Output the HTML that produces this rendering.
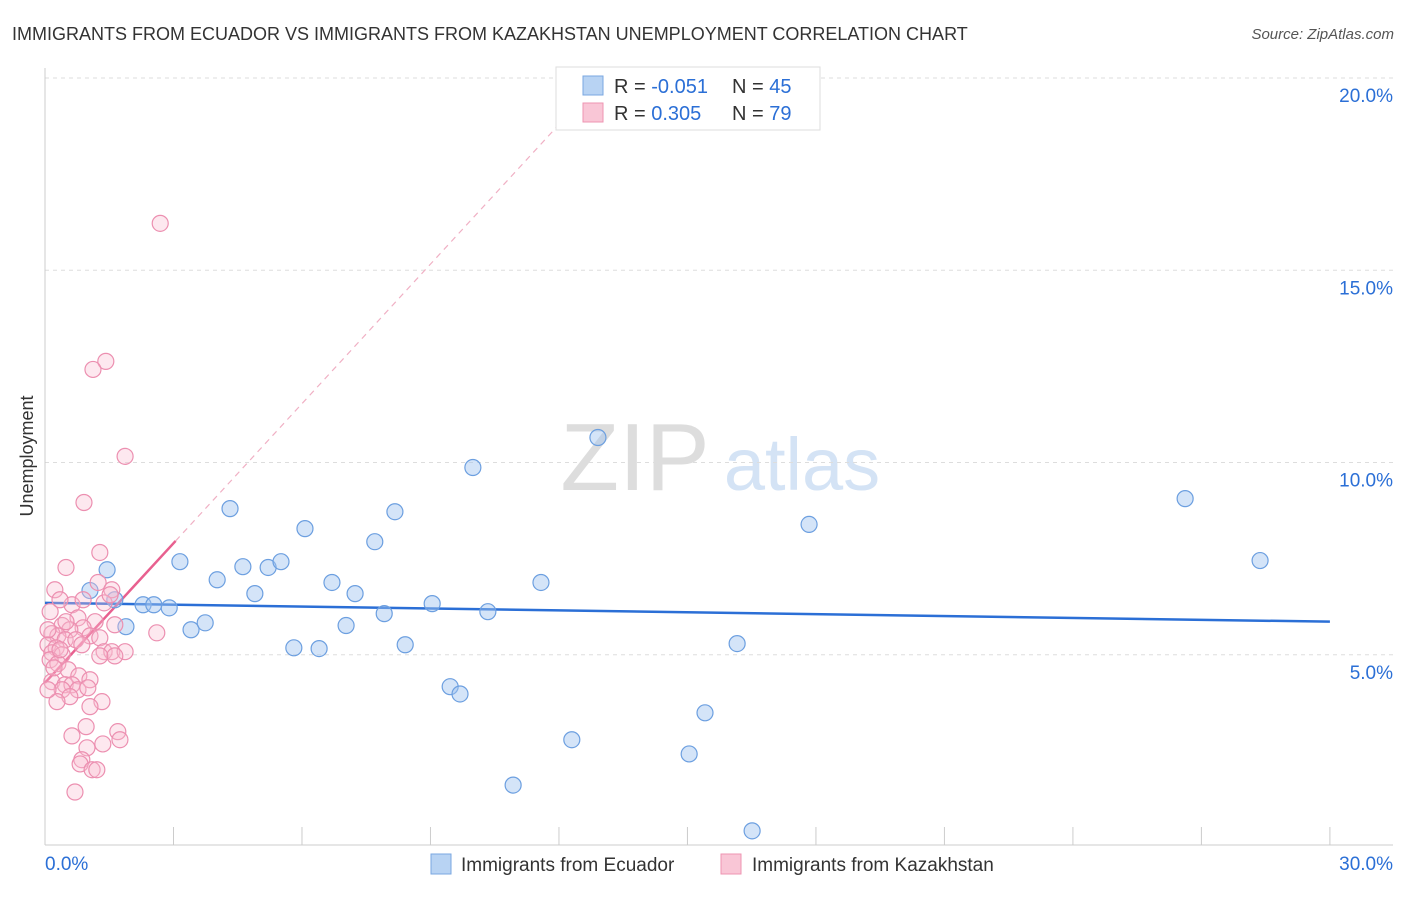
<!DOCTYPE html>
<html><head><meta charset="utf-8"><style>
body{margin:0;background:#fff;font-family:"Liberation Sans",sans-serif}
svg text{font-family:"Liberation Sans",sans-serif}
</style></head><body>
<svg id="chart" width="1406" height="892">
<text x="12" y="40" font-size="18" fill="#333">IMMIGRANTS FROM ECUADOR VS IMMIGRANTS FROM KAZAKHSTAN UNEMPLOYMENT CORRELATION CHART</text>
<text x="1394" y="39" font-size="15" fill="#555" font-style="italic" text-anchor="end">Source: ZipAtlas.com</text>
<text x="33" y="456" font-size="18" fill="#333" text-anchor="middle" transform="rotate(-90 33 456)">Unemployment</text>
<g>
<text x="635" y="490" font-size="96" fill="#ddd" font-family="Liberation Serif" text-anchor="middle">ZIP</text>
<text x="802" y="490" font-size="74" fill="#d4e3f5" text-anchor="middle">atlas</text></g>
<g id="grid"></g><g id="axes"></g><g id="trend"></g><g id="pts"></g>
<g>
<rect x="556" y="67" width="264" height="63" fill="#fff" stroke="#ddd"/>
<rect x="583" y="76" width="20" height="19" fill="#b8d3f3" stroke="#7aa7e0"/>
<rect x="583" y="103" width="20" height="19" fill="#f9c6d6" stroke="#ee94b2"/>
<text x="614" y="93" font-size="20" fill="#333">R = <tspan fill="#2b6fd6">-0.051</tspan></text>
<text x="732" y="93" font-size="20" fill="#333">N = <tspan fill="#2b6fd6">45</tspan></text>
<text x="614" y="120" font-size="20" fill="#333">R = <tspan fill="#2b6fd6"> 0.305</tspan></text>
<text x="732" y="120" font-size="20" fill="#333">N = <tspan fill="#2b6fd6">79</tspan></text>
</g>
<g>
<rect x="431" y="854" width="20" height="20" fill="#b8d3f3" stroke="#7aa7e0"/>
<text x="461" y="871" font-size="19" fill="#333">Immigrants from Ecuador</text>
<rect x="721" y="854" width="20" height="20" fill="#f9c6d6" stroke="#ee94b2"/>
<text x="752" y="871" font-size="19" fill="#333">Immigrants from Kazakhstan</text>
</g>
</svg>
<script>
const yTicks=[5,10,15,20];
const yTickLabels=["5.0%","10.0%","15.0%","20.0%"];
const xTickLabels=["0.0%","30.0%"];
const blueX=[1.05,1.45,1.63,1.89,2.29,2.54,2.90,3.15,3.41,3.74,4.02,4.32,4.62,4.90,5.21,5.51,5.81,6.07,6.40,6.70,7.03,7.24,7.70,7.92,8.17,8.41,9.04,9.46,9.69,9.99,10.34,10.93,11.58,12.30,12.91,15.04,15.41,16.16,16.51,17.84,26.62,28.37];
const blueY=[6.67,7.21,6.43,5.73,6.30,6.30,6.22,7.42,5.65,5.83,6.95,8.80,7.29,6.59,7.27,7.42,5.18,8.28,5.16,6.88,5.76,6.59,7.94,6.07,8.72,5.26,6.33,4.17,3.98,9.87,6.12,1.61,6.88,2.79,10.65,2.42,3.49,5.29,0.42,8.39,9.06,7.45];
const pinkX=[2.69,1.42,1.12,1.87,0.91,1.28,0.49,1.24,1.56,1.38,0.63,0.12,0.77,1.17,0.40,0.89,0.58,0.16,0.30,1.05,1.28,2.61,0.47,0.07,0.26,0.16,0.40,1.38,1.56,1.87,1.63,1.28,0.12,0.30,0.54,0.79,1.05,0.16,0.47,0.63,0.77,1.00,0.40,0.58,0.28,1.33,1.05,0.96,1.70,1.75,0.63,1.35,0.98,0.86,0.82,1.10,1.21,0.70,0.23,0.35,0.72,0.86,0.07,0.21,0.07,1.52,1.63,0.89,0.35,0.49];
const pinkY=[16.22,12.63,12.42,10.16,8.96,7.66,7.27,6.88,6.69,6.35,6.30,6.12,5.96,5.86,5.76,5.70,5.65,5.55,5.49,5.49,5.44,5.57,5.39,5.26,5.18,5.05,5.0,5.08,5.08,5.08,4.97,4.97,4.87,4.77,4.61,4.45,4.35,4.30,4.22,4.22,4.09,4.14,4.09,3.91,3.78,3.78,3.65,3.13,3.0,2.79,2.89,2.68,2.58,2.27,2.16,2.01,2.01,1.43,6.69,6.43,5.39,5.26,5.65,4.66,4.09,6.56,5.78,6.43,5.13,5.86];
const blueTrend=[6.35,5.86];
const pinkTrend=[4.27,1.21];
const X=v=>45+v*42.83, Y=v=>847-v*38.45;
const NS="http://www.w3.org/2000/svg";
function mk(tag,attrs,parent){const e=document.createElementNS(NS,tag);for(const k in attrs)e.setAttribute(k,attrs[k]);document.getElementById(parent).appendChild(e);return e;}
yTicks.forEach((t,i)=>{
 const g=mk('line',{x1:45,x2:1393,y1:Y(t),y2:Y(t),stroke:'#ddd','stroke-dasharray':'4,4'},'grid');
 
 
 const l=mk('text',{x:1393,y:Y(t)+24,'font-size':19,fill:'#2b6fd6','text-anchor':'end'},'grid');
 l.textContent=yTickLabels[i];
 
 
});
const ax=mk('line',{x1:45,x2:45,y1:68,y2:845,stroke:'#ccc'},'axes');


const bx=mk('line',{x1:45,x2:1393,y1:845,y2:845,stroke:'#ccc'},'axes');


for(let i=1;i<=10;i++){const t=mk('line',{x1:X(i*3),x2:X(i*3),y1:827,y2:845,stroke:'#ccc'},'axes');
 
 }
[[0,'start',45],[30,'end',1393]].forEach((d,i)=>{const t=mk('text',{x:d[2],y:870,'font-size':19,fill:'#2b6fd6','text-anchor':d[1]},'axes');t.textContent=xTickLabels[i];
 
 });
blueX.forEach((x,i)=>{const c=mk('circle',{cx:X(x),cy:Y(blueY[i]),r:8,fill:'rgba(160,196,240,0.45)',stroke:'#6c9fe0','stroke-width':1.2},'pts');
 
 });
pinkX.forEach((x,i)=>{const c=mk('circle',{cx:X(x),cy:Y(pinkY[i]),r:8,fill:'rgba(248,190,210,0.35)',stroke:'#ec8fb0','stroke-width':1.2},'pts');
 
 });
const bl=mk('line',{x1:X(0),y1:Y(blueTrend[0]),x2:X(30),y2:Y(blueTrend[1]),stroke:'#2b6fd6','stroke-width':2.5},'trend');


const pe=(20-pinkTrend[0])/pinkTrend[1];
const pd=mk('line',{x1:X(3.05),y1:Y(pinkTrend[0]+pinkTrend[1]*3.05),x2:X(pe),y2:Y(20),stroke:'#f0b0c4','stroke-width':1.2,'stroke-dasharray':'6,5'},'trend');


const ps=mk('line',{x1:X(0),y1:Y(pinkTrend[0]),x2:X(3.05),y2:Y(pinkTrend[0]+pinkTrend[1]*3.05),stroke:'#e8608f','stroke-width':2.5},'trend');


</script>
</body></html>
